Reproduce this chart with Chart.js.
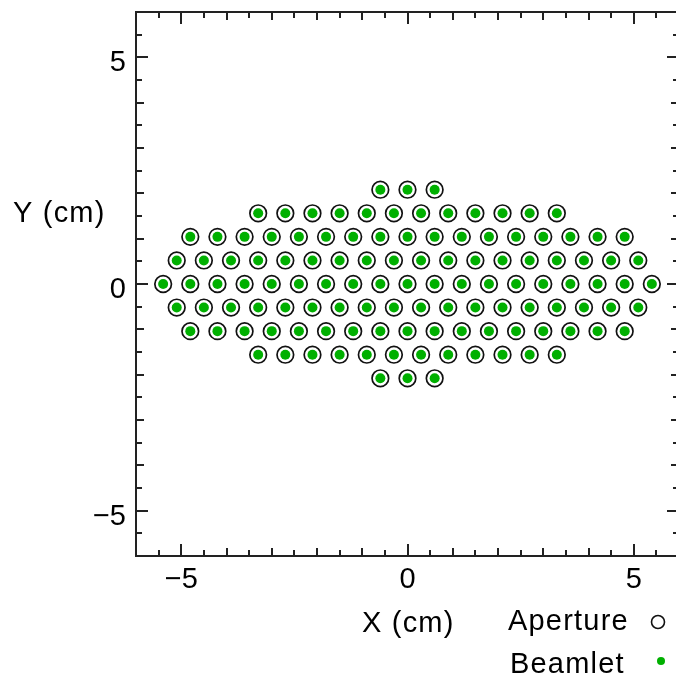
<!DOCTYPE html>
<html>
<head>
<meta charset="utf-8">
<script src="https://cdn.jsdelivr.net/npm/chart.js@4.4.1/dist/chart.umd.min.js"></script>
<style>
  html, body { margin: 0; padding: 0; background: #ffffff; overflow: hidden; }
  #wrap { position: relative; width: 676px; height: 677px; overflow: hidden; }
  #c { position: absolute; left: 0; top: 0; }
</style>
</head>
<body>
<div id="wrap"><canvas id="c" width="680" height="677" style="width:680px;height:677px"></canvas></div>
<script>
// ---- Data ----
const rowY = [2.08, 1.56, 1.04, 0.52, 0, -0.52, -1.04, -1.56, -2.08];
const rowX = [
  [-0.6, 0, 0.6],
  [-3.3, -2.7, -2.1, -1.5, -0.9, -0.3, 0.3, 0.9, 1.5, 2.1, 2.7, 3.3],
  [-4.8, -4.2, -3.6, -3.0, -2.4, -1.8, -1.2, -0.6, 0, 0.6, 1.2, 1.8, 2.4, 3.0, 3.6, 4.2, 4.8],
  [-5.1, -4.5, -3.9, -3.3, -2.7, -2.1, -1.5, -0.9, -0.3, 0.3, 0.9, 1.5, 2.1, 2.7, 3.3, 3.9, 4.5, 5.1],
  [-5.4, -4.8, -4.2, -3.6, -3.0, -2.4, -1.8, -1.2, -0.6, 0, 0.6, 1.2, 1.8, 2.4, 3.0, 3.6, 4.2, 4.8, 5.4],
  [-5.1, -4.5, -3.9, -3.3, -2.7, -2.1, -1.5, -0.9, -0.3, 0.3, 0.9, 1.5, 2.1, 2.7, 3.3, 3.9, 4.5, 5.1],
  [-4.8, -4.2, -3.6, -3.0, -2.4, -1.8, -1.2, -0.6, 0, 0.6, 1.2, 1.8, 2.4, 3.0, 3.6, 4.2, 4.8],
  [-3.3, -2.7, -2.1, -1.5, -0.9, -0.3, 0.3, 0.9, 1.5, 2.1, 2.7, 3.3],
  [-0.6, 0, 0.6]
];
const xTickLabels = [-5, 0, 5];
const yTickLabels = [-5, 0, 5];
const xRange = [-6, 6];
const yRange = [-6, 6];
const seriesNames = ['Aperture', 'Beamlet'];
const xTitle = 'X (cm)';
const yTitle = 'Y (cm)';

// build point table from the rows
const points = [];
rowY.forEach((y, i) => rowX[i].forEach(x => points.push({ x: x, y: y })));

const FONT = "'Liberation Sans', Arial, Helvetica, sans-serif";
const GREEN = '#00b000';
const AXIS = '#222222';

const fmt = v => (v < 0 ? '\u2212' + Math.abs(v) : String(v));
const noPad = s => { s.paddingTop = 0; s.paddingBottom = 0; s.paddingLeft = 0; s.paddingRight = 0; };

const framePlugin = {
  id: 'frame',
  afterDraw(chart) {
    const ctx = chart.ctx;
    const a = chart.chartArea;
    const xs = chart.scales.x, ys = chart.scales.y;
    ctx.save();
    ctx.strokeStyle = AXIS;
    ctx.lineWidth = 2;
    ctx.strokeRect(a.left, a.top, a.right - a.left, a.bottom - a.top);
    // tick marks, all sides, pointing inward
    const len = v => (Math.abs(v % 5) < 1e-9 ? 12 : (Math.abs(v % 1) < 1e-9 ? 8 : 6));
    ctx.lineWidth = 2;
    ctx.beginPath();
    for (let k = xRange[0] * 2 + 1; k < xRange[1] * 2; k++) {
      const v = k / 2, p = Math.round(xs.getPixelForValue(v)), L = len(v);
      ctx.moveTo(p, a.bottom); ctx.lineTo(p, a.bottom - L);
      ctx.moveTo(p, a.top); ctx.lineTo(p, a.top + L);
    }
    for (let k = yRange[0] * 2 + 1; k < yRange[1] * 2; k++) {
      const v = k / 2, p = Math.round(ys.getPixelForValue(v)), L = len(v);
      ctx.moveTo(a.left, p); ctx.lineTo(a.left + L, p);
      ctx.moveTo(a.right, p); ctx.lineTo(a.right - L, p);
    }
    ctx.stroke();

    // titles and legend text
    ctx.fillStyle = '#000000';
    ctx.font = '29px ' + FONT;
    ctx.textBaseline = 'alphabetic';
    ctx.textAlign = 'left';
    try { ctx.letterSpacing = '1.2px'; } catch (e) {}
    ctx.fillText(xTitle, 362, 632);
    ctx.fillText(yTitle, 13, 222);
    ctx.fillText(seriesNames[0], 508, 630);
    ctx.fillText(seriesNames[1], 510, 673);
    try { ctx.letterSpacing = '0px'; } catch (e) {}

    // legend symbols
    const d0 = chart.data.datasets[0], d1 = chart.data.datasets[1];
    ctx.beginPath();
    ctx.strokeStyle = d0.borderColor;
    ctx.lineWidth = 1.6;
    ctx.arc(658, 622, 6.5, 0, Math.PI * 2);
    ctx.stroke();
    ctx.beginPath();
    ctx.fillStyle = d1.backgroundColor;
    ctx.arc(661, 661, 4, 0, Math.PI * 2);
    ctx.fill();
    ctx.restore();
  }
};

new Chart(document.getElementById('c'), {
  type: 'scatter',
  data: {
    datasets: [
      {
        label: seriesNames[0],
        data: points,
        pointStyle: 'circle',
        pointRadius: 8.3,
        pointHoverRadius: 8.3,
        borderColor: '#111111',
        borderWidth: 1.7,
        backgroundColor: 'rgba(0,0,0,0)',
        order: 2
      },
      {
        label: seriesNames[1],
        data: points,
        pointStyle: 'circle',
        pointRadius: 5,
        pointHoverRadius: 5,
        borderWidth: 0,
        borderColor: GREEN,
        backgroundColor: GREEN,
        order: 1
      }
    ]
  },
  options: {
    responsive: false,
    animation: false,
    devicePixelRatio: 1,
    events: [],
    layout: { autoPadding: false, padding: { left: 0, top: 12, right: 1, bottom: 0 } },
    plugins: { legend: { display: false }, tooltip: { enabled: false }, title: { display: false } },
    scales: {
      x: {
        type: 'linear',
        position: 'bottom',
        min: xRange[0], max: xRange[1],
        afterBuildTicks: s => { s.ticks = xTickLabels.map(v => ({ value: v })); },
        afterFit: s => { s.height = 121; noPad(s); },
        grid: { display: false, drawTicks: false },
        border: { display: false },
        ticks: {
          color: '#000000',
          font: { family: FONT, size: 29, lineHeight: 1.2 },
          padding: 7,
          maxRotation: 0,
          callback: v => fmt(v)
        }
      },
      y: {
        type: 'linear',
        position: 'left',
        min: yRange[0], max: yRange[1],
        afterBuildTicks: s => { s.ticks = yTickLabels.map(v => ({ value: v })); },
        afterFit: s => { s.width = 136; noPad(s); },
        grid: { display: false, drawTicks: false },
        border: { display: false },
        ticks: {
          color: '#000000',
          font: { family: FONT, size: 29, lineHeight: 1.2 },
          padding: 10,
          labelOffset: 6,
          callback: v => fmt(v)
        }
      }
    }
  },
  plugins: [framePlugin]
});
</script>
</body>
</html>
